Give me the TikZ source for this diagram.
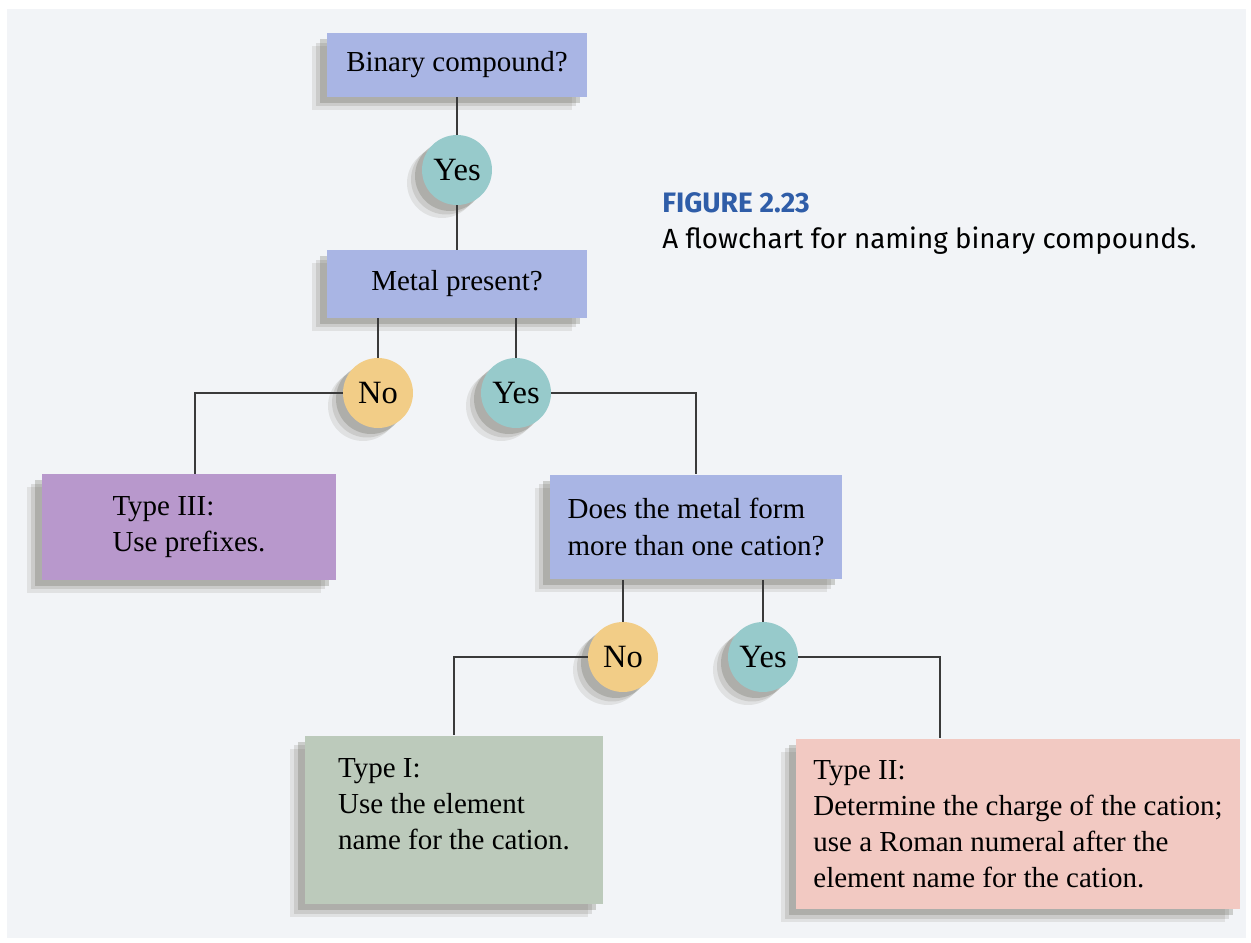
\documentclass[tikz,border=0pt]{standalone}
\usepackage{fontspec}
\setmainfont{Liberation Serif}
\newfontfamily\capfont{Fira Sans}
\usetikzlibrary{positioning, calc, shadows}

\definecolor{pagebg}{HTML}{F2F4F7}
\definecolor{qblue}{HTML}{A9B5E4}
\definecolor{yescol}{HTML}{97CACB}
\definecolor{nocol}{HTML}{F2CD87}
\definecolor{typeiii}{HTML}{B898CC}
\definecolor{typei}{HTML}{BCCABB}
\definecolor{typeii}{HTML}{F2C9C2}
\definecolor{capblue}{HTML}{2F5DA8}
\definecolor{wire}{HTML}{3A3A3A}
\definecolor{shade}{HTML}{5E5E50}

\begin{document}
\begin{tikzpicture}[x=0.02cm, y=-0.02cm,
    boxshadow/.style={
        drop shadow={shadow xshift=-0.30cm, shadow yshift=-0.26cm, fill=shade, opacity=0.12},
        drop shadow={shadow xshift=-0.22cm, shadow yshift=-0.19cm, fill=shade, opacity=0.16},
        drop shadow={shadow xshift=-0.14cm, shadow yshift=-0.12cm, fill=shade, opacity=0.26}},
    question/.style={rectangle, fill=qblue, boxshadow, align=left, inner sep=0pt,
        font=\fontsize{16.5}{20.5}\selectfont},
    answer/.style={rectangle, align=left, inner sep=0pt, boxshadow,
        font=\fontsize{16.5}{20.5}\selectfont},
    yesdot/.style={circle, fill=yescol, minimum size=1.4cm, inner sep=0pt, boxshadow,
        font=\fontsize{18.5}{20}\selectfont},
    nodot/.style={yesdot, fill=nocol},
    wireline/.style={draw=wire, line width=0.7pt}]

    \fill[white] (0,0) rectangle (1251,943); % page edge
    \fill[pagebg] (7,9) rectangle (1246,938); % scan

    % questions
    \node[question, minimum width=5.2cm, minimum height=1.28cm] (binary) at (457,65) {Binary compound?};
    \node[question, minimum width=5.2cm, minimum height=1.36cm] (metal) at (457,284) {Metal present?};
    \node[question, minimum width=5.84cm, minimum height=2.1cm] (cation) at (696,527) {Does the metal form\\more than one cation?};

    % answers
    \node[answer, fill=typeiii, minimum width=5.88cm, minimum height=2.12cm] (type3) at (189,527) {Type III:\\Use prefixes.};
    \node[answer, fill=typei, minimum width=5.96cm, minimum height=3.38cm] (type1) at (454,820) {Type I:\\Use the element\\name for the cation.\\[-2pt]};
    \node[answer, fill=typeii, minimum width=8.88cm, minimum height=3.42cm] (type2) at (1018,824) {Type II:\\Determine the charge of the cation;\\use a Roman numeral after the\\element name for the cation.};

    % yes / no dots
    \node[yesdot] (yes0) at (457,170) {Yes};
    \node[nodot] (no1) at (378,393) {No};
    \node[yesdot] (yes1) at (516,393) {Yes};
    \node[nodot] (no2) at (623,657) {No};
    \node[yesdot] (yes2) at (763,657) {Yes};

    % connectors
    \draw[wireline] (binary) -- (yes0);
    \draw[wireline] (yes0) -- (metal);
    \draw[wireline] (metal.south -| no1) -- (no1);
    \draw[wireline] (metal.south -| yes1) -- (yes1);
    \draw[wireline] (no1.west) -| ([xshift=0.12cm]type3.north);
    \draw[wireline] (yes1.east) -| (cation.north);
    \draw[wireline] (cation.south -| no2) -- (no2);
    \draw[wireline] (cation.south -| yes2) -- (yes2);
    \draw[wireline] (no2.west) -| (type1.north);
    \draw[wireline] (yes2.east) -| ([xshift=-1.56cm]type2.north);

    % caption
    \node[anchor=base west, text=capblue, font=\capfont\bfseries\fontsize{16}{19}\selectfont, inner sep=0pt] (figno) at (662,212) {FIGURE 2.23};
    \node[anchor=base west, font=\capfont\fontsize{15.8}{19}\selectfont, inner sep=0pt] (figtext) at (662,248) {A flowchart for naming binary compounds.};
\end{tikzpicture}
\end{document}
